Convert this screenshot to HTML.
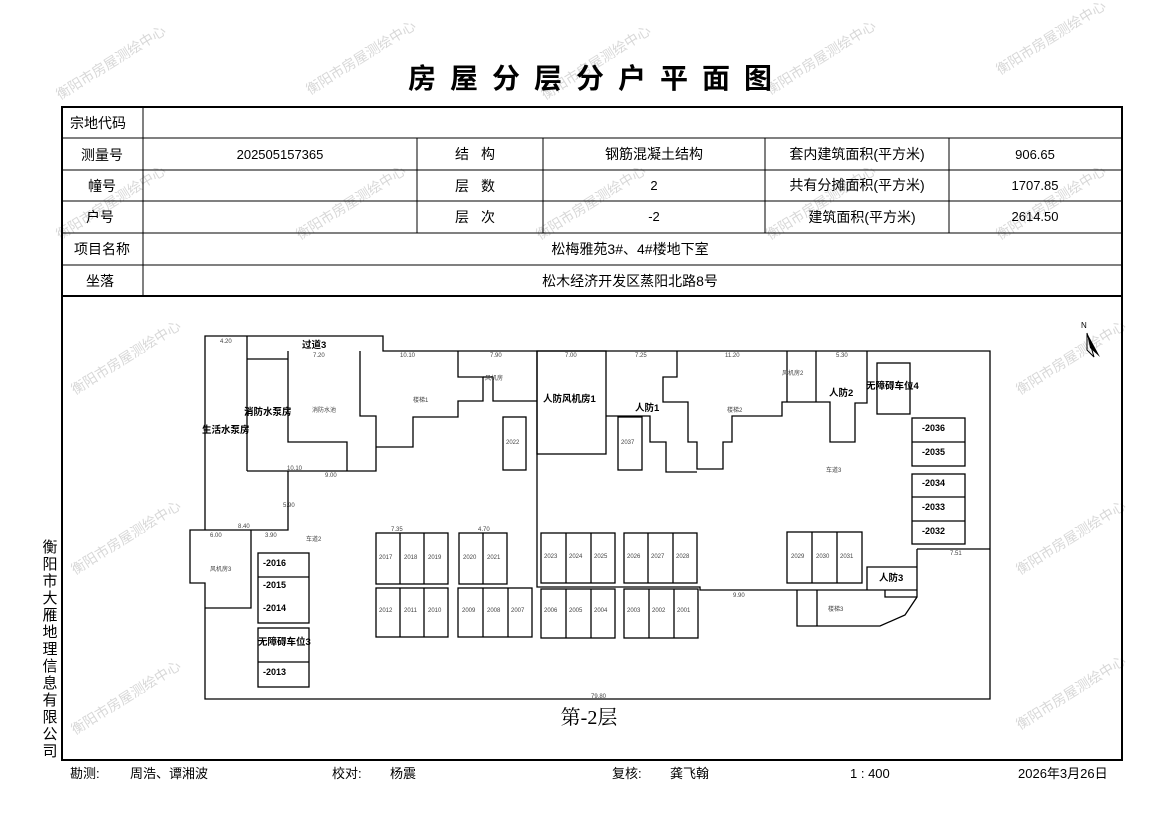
<!DOCTYPE html>
<html><head><meta charset="utf-8"><style>
html,body{margin:0;padding:0;background:#fff;}
body{width:1169px;height:827px;position:relative;overflow:hidden;font-family:"Liberation Sans","Noto Sans CJK SC",sans-serif;}
svg{position:absolute;left:0;top:0;}
</style></head><body>
<svg width="1169" height="827" viewBox="0 0 1169 827" xmlns="http://www.w3.org/2000/svg" font-family="Liberation Sans, Noto Sans CJK SC, sans-serif">
<!-- watermarks -->
<g fill="#d8d8d8" font-size="14">
<text transform="translate(60,100) rotate(-32)">衡阳市房屋测绘中心</text>
<text transform="translate(310,95) rotate(-32)">衡阳市房屋测绘中心</text>
<text transform="translate(545,100) rotate(-32)">衡阳市房屋测绘中心</text>
<text transform="translate(770,95) rotate(-32)">衡阳市房屋测绘中心</text>
<text transform="translate(1000,75) rotate(-32)">衡阳市房屋测绘中心</text>
<text transform="translate(60,240) rotate(-32)">衡阳市房屋测绘中心</text>
<text transform="translate(300,240) rotate(-32)">衡阳市房屋测绘中心</text>
<text transform="translate(540,240) rotate(-32)">衡阳市房屋测绘中心</text>
<text transform="translate(770,240) rotate(-32)">衡阳市房屋测绘中心</text>
<text transform="translate(1000,240) rotate(-32)">衡阳市房屋测绘中心</text>
<text transform="translate(75,395) rotate(-32)">衡阳市房屋测绘中心</text>
<text transform="translate(1020,395) rotate(-32)">衡阳市房屋测绘中心</text>
<text transform="translate(75,575) rotate(-32)">衡阳市房屋测绘中心</text>
<text transform="translate(1020,575) rotate(-32)">衡阳市房屋测绘中心</text>
<text transform="translate(75,735) rotate(-32)">衡阳市房屋测绘中心</text>
<text transform="translate(1020,730) rotate(-32)">衡阳市房屋测绘中心</text>
</g>
<!-- title -->
<text x="597" y="88" text-anchor="middle" font-size="28" font-weight="bold" letter-spacing="14">房屋分层分户平面图</text>
<!-- table -->
<g stroke="#000" fill="none">
<rect x="62" y="107" width="1060" height="653" stroke-width="2"/>
<line x1="62" y1="296" x2="1122" y2="296" stroke-width="2"/>
<g stroke-width="1">
<line x1="62" y1="138" x2="1122" y2="138"/>
<line x1="62" y1="170" x2="1122" y2="170"/>
<line x1="62" y1="201" x2="1122" y2="201"/>
<line x1="62" y1="233" x2="1122" y2="233"/>
<line x1="62" y1="265" x2="1122" y2="265"/>
<line x1="143" y1="107" x2="143" y2="296"/>
<line x1="417" y1="138" x2="417" y2="233"/>
<line x1="543" y1="138" x2="543" y2="233"/>
<line x1="765" y1="138" x2="765" y2="233"/>
<line x1="949" y1="138" x2="949" y2="233"/>
</g></g>
<g font-size="14" fill="#000" text-anchor="middle">
<text x="98" y="128">宗地代码</text>
<text x="102" y="160">测量号</text>
<text x="102" y="191">幢号</text>
<text x="100" y="222">户号</text>
<text x="102" y="254">项目名称</text>
<text x="100" y="286">坐落</text>
<text x="280" y="159" font-size="13">202505157365</text>
<text x="481" y="159" letter-spacing="12">结构</text>
<text x="481" y="191" letter-spacing="12">层数</text>
<text x="481" y="222" letter-spacing="12">层次</text>
<text x="654" y="159">钢筋混凝土结构</text>
<text x="654" y="190" font-size="13">2</text>
<text x="654" y="221" font-size="13">-2</text>
<text x="857" y="159">套内建筑面积(平方米)</text>
<text x="857" y="190">共有分摊面积(平方米)</text>
<text x="862" y="222">建筑面积(平方米)</text>
<text x="1035" y="159" font-size="13">906.65</text>
<text x="1035" y="190" font-size="13">1707.85</text>
<text x="1035" y="221" font-size="13">2614.50</text>
<text x="630" y="254">松梅雅苑3#、4#楼地下室</text>
<text x="630" y="286">松木经济开发区蒸阳北路8号</text>
</g>
<!-- left vertical company -->
<g font-size="15" fill="#000" text-anchor="middle">
<text x="50" y="552">衡</text><text x="50" y="569">阳</text><text x="50" y="586">市</text><text x="50" y="603">大</text><text x="50" y="620">雁</text><text x="50" y="637">地</text><text x="50" y="654">理</text><text x="50" y="671">信</text><text x="50" y="688">息</text><text x="50" y="705">有</text><text x="50" y="722">限</text><text x="50" y="739">公</text><text x="50" y="756">司</text>
</g>
<!-- footer -->
<g font-size="13" fill="#000">
<text x="70" y="778">勘测:</text><text x="130" y="778">周浩、谭湘波</text>
<text x="332" y="778">校对:</text><text x="390" y="778">杨震</text>
<text x="612" y="778">复核:</text><text x="670" y="778">龚飞翰</text>
<text x="850" y="778">1 : 400</text>
<text x="1018" y="778">2026年3月26日</text>
</g>
<text x="589" y="724" text-anchor="middle" font-size="20" font-family="Liberation Serif, Noto Serif CJK SC, serif">第-2层</text>
<!-- north arrow -->
<text x="1081" y="328" font-size="8">N</text>
<polygon points="1087,333 1094,357 1087,350" fill="none" stroke="#000"/>
<polygon points="1087,333 1100,357 1090,348" fill="#000"/>
<!-- floor plan -->
<g stroke="#000" fill="none" stroke-width="1.3">
<!-- outer -->
<polyline points="205,530 205,336 383,336 383,351 990,351 990,699 205,699 205,583 190,583 190,530 205,530"/>
<polyline points="205,608 251,608 251,530"/>
<polyline points="205,530 288,530 288,471"/>
<line x1="247" y1="336" x2="247" y2="471"/>
<line x1="247" y1="359" x2="288" y2="359"/>
<line x1="288" y1="351" x2="288" y2="359"/>
<polyline points="288,359 288,442 347,442 347,471"/>
<polyline points="247,471 376,471 376,416 360,416 360,351"/>
<polyline points="376,447 413,447 413,417 458,417 458,401 483,401 483,377 458,377 458,351"/>
<polyline points="493,377 493,401 537,401"/>
<line x1="483" y1="377" x2="493" y2="377"/>
<!-- right/central -->
<polyline points="537,351 537,587 700,587 700,590 917,590"/>
<rect x="537" y="351" width="69" height="103"/>
<polyline points="677,351 677,377 663,377 663,402 688,402 688,442 697,442 697,469 723,469 723,442 732,442 732,416 782,416 782,402 830,402 830,442 855,442 855,403 867,403 867,351"/>
<polyline points="606,416 650,416 650,442 666,442 666,472 697,472"/>
<line x1="787" y1="351" x2="787" y2="402"/>
<line x1="816" y1="351" x2="816" y2="402"/>
<polyline points="917,549 990,549"/>
<polyline points="917,549 917,597 905,615 880,626 817,626 797,626 797,590"/>
<line x1="817" y1="590" x2="817" y2="626"/>
<polyline points="867,590 867,567 917,567"/>
<polyline points="885,590 885,597 917,597"/>
<!-- boxes -->
<rect x="618" y="417" width="24" height="53"/>
<rect x="503" y="417" width="23" height="53"/>
<rect x="877" y="363" width="33" height="51"/>
<rect x="912" y="418" width="53" height="48"/><line x1="912" y1="442" x2="965" y2="442"/>
<rect x="912" y="474" width="53" height="70"/><line x1="912" y1="497" x2="965" y2="497"/><line x1="912" y1="521" x2="965" y2="521"/>
<rect x="258" y="553" width="51" height="70"/><line x1="258" y1="577" x2="309" y2="577"/>
<rect x="258" y="628" width="51" height="59"/><line x1="258" y1="662" x2="309" y2="662"/>
<!-- parking rows -->
<rect x="376" y="533" width="72" height="51"/><line x1="400" y1="533" x2="400" y2="584"/><line x1="424" y1="533" x2="424" y2="584"/>
<rect x="459" y="533" width="48" height="51"/><line x1="483" y1="533" x2="483" y2="584"/>
<rect x="541" y="533" width="74" height="50"/><line x1="566" y1="533" x2="566" y2="583"/><line x1="591" y1="533" x2="591" y2="583"/>
<rect x="624" y="533" width="73" height="50"/><line x1="648" y1="533" x2="648" y2="583"/><line x1="673" y1="533" x2="673" y2="583"/>
<rect x="787" y="532" width="75" height="51"/><line x1="812" y1="532" x2="812" y2="583"/><line x1="837" y1="532" x2="837" y2="583"/>
<rect x="376" y="588" width="72" height="49"/><line x1="400" y1="588" x2="400" y2="637"/><line x1="424" y1="588" x2="424" y2="637"/>
<rect x="458" y="588" width="74" height="49"/><line x1="483" y1="588" x2="483" y2="637"/><line x1="508" y1="588" x2="508" y2="637"/>
<rect x="541" y="589" width="74" height="49"/><line x1="566" y1="589" x2="566" y2="638"/><line x1="591" y1="589" x2="591" y2="638"/>
<rect x="624" y="589" width="74" height="49"/><line x1="649" y1="589" x2="649" y2="638"/><line x1="674" y1="589" x2="674" y2="638"/>
</g>
<!-- plan labels -->
<g font-weight="bold" fill="#000" font-size="9.5">
<text x="302" y="348">过道3</text>
<text x="244" y="415">消防水泵房</text>
<text x="202" y="433">生活水泵房</text>
<text x="543" y="402">人防风机房1</text>
<text x="635" y="411">人防1</text>
<text x="829" y="396">人防2</text>
<text x="866" y="389">无障碍车位4</text>
<text x="879" y="581">人防3</text>
<text x="258" y="645">无障碍车位3</text>
<text x="263" y="566" font-size="9">-2016</text>
<text x="263" y="588" font-size="9">-2015</text>
<text x="263" y="611" font-size="9">-2014</text>
<text x="263" y="675" font-size="9">-2013</text>
<text x="922" y="431" font-size="9">-2036</text>
<text x="922" y="455" font-size="9">-2035</text>
<text x="922" y="486" font-size="9">-2034</text>
<text x="922" y="510" font-size="9">-2033</text>
<text x="922" y="534" font-size="9">-2032</text>
</g>
<g fill="#444" font-size="6">
<text x="379" y="559">2017</text><text x="404" y="559">2018</text><text x="428" y="559">2019</text>
<text x="463" y="559">2020</text><text x="487" y="559">2021</text>
<text x="544" y="558">2023</text><text x="569" y="558">2024</text><text x="594" y="558">2025</text>
<text x="627" y="558">2026</text><text x="651" y="558">2027</text><text x="676" y="558">2028</text>
<text x="791" y="558">2029</text><text x="816" y="558">2030</text><text x="840" y="558">2031</text>
<text x="379" y="612">2012</text><text x="404" y="612">2011</text><text x="428" y="612">2010</text>
<text x="462" y="612">2009</text><text x="487" y="612">2008</text><text x="511" y="612">2007</text>
<text x="544" y="612">2006</text><text x="569" y="612">2005</text><text x="594" y="612">2004</text>
<text x="627" y="612">2003</text><text x="652" y="612">2002</text><text x="677" y="612">2001</text>
<text x="506" y="444">2022</text><text x="621" y="444">2037</text>
<text x="312" y="412">消防水池</text><text x="413" y="402">楼梯1</text><text x="727" y="412">楼梯2</text>
<text x="828" y="611">楼梯3</text><text x="826" y="472">车道3</text><text x="306" y="541">车道2</text>
<text x="210" y="571">风机房3</text><text x="485" y="380">风机房</text><text x="782" y="375">风机房2</text>
<text x="591" y="698">79.80</text><text x="220" y="343">4.20</text><text x="313" y="357">7.20</text>
<text x="400" y="357">10.10</text><text x="490" y="357">7.90</text><text x="565" y="357">7.00</text>
<text x="635" y="357">7.25</text><text x="725" y="357">11.20</text><text x="836" y="357">5.30</text>
<text x="287" y="470">10.10</text><text x="325" y="477">9.00</text><text x="733" y="597">9.90</text>
<text x="950" y="555">7.51</text><text x="283" y="507">5.90</text><text x="238" y="528">8.40</text>
<text x="210" y="537">6.00</text><text x="265" y="537">3.90</text><text x="391" y="531">7.35</text><text x="478" y="531">4.70</text>
</g>
</svg>
</body></html>
